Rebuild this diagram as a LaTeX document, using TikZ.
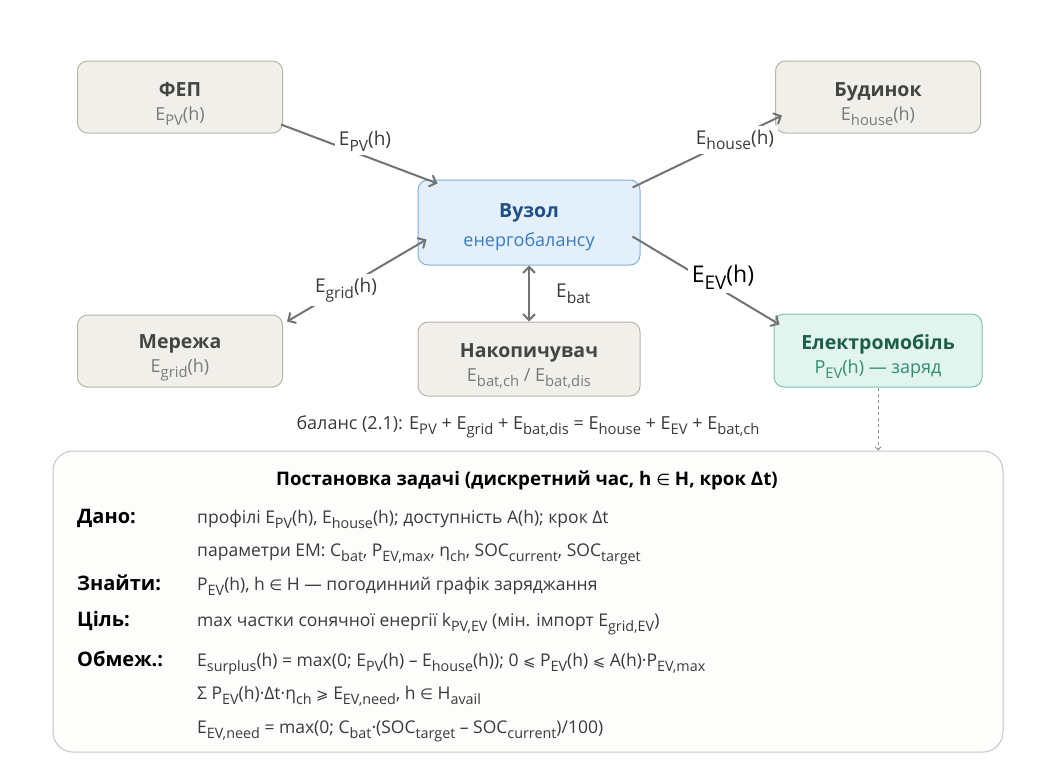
\documentclass[tikz,border=0pt]{standalone}
\usepackage{fontspec}
\setmainfont{Open Sans}
\newfontfamily\symf{DejaVu Sans}
\usetikzlibrary{arrows.meta}

\definecolor{boxfill}{HTML}{F1EFEA}
\definecolor{boxdraw}{HTML}{B8B4AC}
\definecolor{boxtitle}{HTML}{444444}
\definecolor{boxsub}{HTML}{7A7A7A}
\definecolor{hubfill}{HTML}{E4EFFC}
\definecolor{hubdraw}{HTML}{82AEDD}
\definecolor{hubtitle}{HTML}{1E4F86}
\definecolor{hubsub}{HTML}{3B7BC4}
\definecolor{evfill}{HTML}{E2F4EE}
\definecolor{evdraw}{HTML}{7CC3AA}
\definecolor{evtitle}{HTML}{1D5E4B}
\definecolor{evsub}{HTML}{2F8F70}
\definecolor{flowc}{HTML}{737373}
\definecolor{panelfill}{HTML}{FDFDFC}
\definecolor{paneldraw}{HTML}{C6C6C6}
\definecolor{textc}{HTML}{3A3A3A}

% subscript: 82% of the running size, dropped below the baseline
\makeatletter
\newcommand\lo[1]{\raisebox{-0.3em}{\fontsize{\the\dimexpr0.82\dimexpr\f@size pt\relax\relax}{1pt}\selectfont #1}}
% relation signs taken from DejaVu Sans, slightly reduced
\newcommand\relsign[1]{{\symf\mdseries\fontsize{\the\dimexpr0.85\dimexpr\f@size pt\relax\relax}{1pt}\selectfont #1}}
\makeatother
\newcommand\inset{\relsign{∈}}
\newcommand\leqs{\relsign{⩽}}
\newcommand\geqs{\relsign{⩾}}
% two-line card text: bold title over a subtitle
\newcommand\cardtext[4]{\rule{0pt}{#3}{\bfseries\fontsize{19.5}{24}\selectfont #1}\\#2\rule[-#4]{0pt}{#4}}

\tikzset{
  card/.style={rectangle, rounded corners=10pt, draw=boxdraw, fill=boxfill,
    line width=1pt, minimum width=205pt, minimum height=72pt, align=center,
    inner sep=0pt, text=boxsub, font=\fontsize{18}{24}\selectfont},
  flow/.style={draw=flowc, line width=2pt, -{Straight Barb[length=6pt,width=12pt]}},
  flowboth/.style={draw=flowc, line width=2pt, {Straight Barb[length=6pt,width=12pt]}-{Straight Barb[length=6pt,width=12pt]}},
  lbl/.style={fill=white, inner sep=4pt, text=textc, font=\fontsize{19}{21}\selectfont},
  rowlab/.style={anchor=base west, inner sep=0pt, text=black, font=\bfseries\fontsize{20}{22}\selectfont},
  rowtxt/.style={anchor=base west, inner sep=0pt, text=textc, font=\fontsize{17.5}{20}\selectfont},
}

\begin{document}
\begin{tikzpicture}[x=1pt, y=-1pt]
  \useasboundingbox[fill=white] (0,0) rectangle (1049,766);

  % energy nodes
  \node[card] (fep) at (180,97)
    {\cardtext{\color{boxtitle}ФЕП}{E\lo{PV}(h)}{28pt}{6pt}};
  \node[card] (house) at (878,97)
    {\cardtext{\color{boxtitle}Будинок}{E\lo{house}(h)}{28pt}{6pt}};
  \node[card] (grid) at (180,351)
    {\cardtext{\color{boxtitle}Мережа}{E\lo{grid}(h)}{28pt}{6pt}};
  \node[card, minimum width=222pt, minimum height=74pt] (bat) at (529,359)
    {\cardtext{\color{boxtitle}Накопичувач}{E\lo{bat,ch} / E\lo{bat,dis}}{28pt}{6pt}};
  \node[card, draw=hubdraw, fill=hubfill, text=hubsub, minimum width=222pt, minimum height=85pt,
        font=\fontsize{18}{28.5}\selectfont] (hub) at (529,222.5)
    {\cardtext{\color{hubtitle}\fontsize{19.5}{28.5}\selectfont Вузол}{енергобалансу}{25pt}{6.5pt}};
  \node[card, draw=evdraw, fill=evfill, text=evsub, minimum width=208pt, minimum height=73pt] (ev) at (878,350.5)
    {\cardtext{\color{evtitle}Електромобіль}{P\lo{EV}(h) — заряд}{27pt}{6pt}};

  % problem statement panel
  \node[rectangle, rounded corners=20pt, draw=paneldraw, fill=panelfill, line width=1pt,
        minimum width=950pt, minimum height=301pt, inner sep=0pt] (task) at (528,601.5) {};

  % energy flows
  \draw[flow] ([xshift=-2pt,yshift=9pt]fep.south east) -- ([xshift=20pt,yshift=-4pt]hub.north west);
  \draw[flow] ([xshift=-8pt,yshift=-8pt]hub.north east) -- ([xshift=7pt,yshift=18pt]house.south west);
  \draw[flowboth] ([xshift=9pt,yshift=-17pt]hub.west) -- ([xshift=4pt,yshift=-7pt]grid.north east);
  \draw[flowboth] (hub.south) -- (bat.north);
  \draw[flow] ([xshift=-8pt,yshift=-14pt]hub.east) -- ([xshift=6pt,yshift=-11pt]ev.north west);
  \draw[draw=flowc!80, line width=1pt, dashed, -{Straight Barb[length=3pt,width=6pt]}] (ev.south) -- (task.north -| ev.south);

  % flow labels
  \node[lbl] (lpv) at (365,141) {E\lo{PV}(h)};
  \node[lbl] (lhouse) at (735,140) {E\lo{house}(h)};
  \node[lbl] (lgrid) at (346,290) {E\lo{grid}(h)};
  \node[lbl, fill=none, anchor=west] (lbat) at (552,294) {E\lo{bat}};
  \node[lbl, text=black, font=\fontsize{23}{25}\selectfont] (lev) at (723,277) {E\lo{EV}(h)};

  % balance equation
  \node[text=textc, font=\fontsize{18}{20}\selectfont, inner sep=0pt, anchor=base] (balance) at (528,429)
    {баланс (2.1): E\lo{PV} + E\lo{grid} + E\lo{bat,dis} = E\lo{house} + E\lo{EV} + E\lo{bat,ch}};

  % panel contents
  \node[anchor=base, inner sep=0pt, text=black, font=\bfseries\fontsize{18.7}{22}\selectfont] (ttitle) at (527,485)
    {Постановка задачі (дискретний час, h \inset{} H, крок Δt)};

  \node[rowlab] (l1) at (77,523) {Дано:};
  \node[rowtxt] (t1) at (197,523) {профілі E\lo{PV}(h), E\lo{house}(h); доступність A(h); крок Δt};
  \node[rowtxt] (t2) at (197,556) {параметри ЕМ: C\lo{bat}, P\lo{EV,max}, η\lo{ch}, SOC\lo{current}, SOC\lo{target}};
  \node[rowlab] (l3) at (77,590) {Знайти:};
  \node[rowtxt] (t3) at (197,590) {P\lo{EV}(h), h \inset{} H — погодинний графік заряджання};
  \node[rowlab] (l4) at (77,626) {Ціль:};
  \node[rowtxt] (t4) at (197,626) {max частки сонячної енергії k\lo{PV,EV} (мін. імпорт E\lo{grid,EV})};
  \node[rowlab] (l5) at (77,666) {Обмеж.:};
  \node[rowtxt] (t5) at (197,666) {E\lo{surplus}(h) = max(0; E\lo{PV}(h) – E\lo{house}(h)); 0 \leqs{} P\lo{EV}(h) \leqs{} A(h)·P\lo{EV,max}};
  \node[rowtxt] (t6) at (197,699) {Σ P\lo{EV}(h)·Δt·η\lo{ch} \geqs{} E\lo{EV,need}, h \inset{} H\lo{avail}};
  \node[rowtxt] (t7) at (197,733) {E\lo{EV,need} = max(0; C\lo{bat}·(SOC\lo{target} – SOC\lo{current})/100)};
\end{tikzpicture}
\end{document}
